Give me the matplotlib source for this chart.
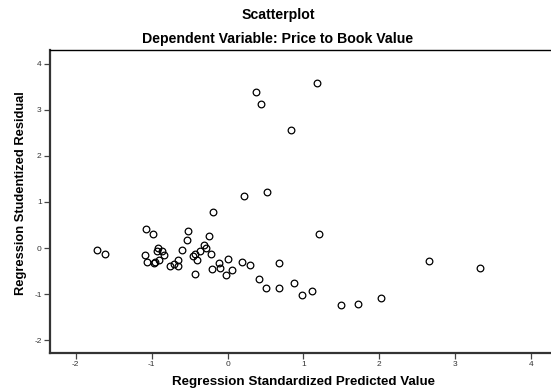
import matplotlib
matplotlib.use("Agg")
import matplotlib.pyplot as plt

# Data
pred = [-1.715, -1.62, -1.08, -0.98, -1.09, -1.06, -0.97, -0.95, -0.90, -0.915,
        -0.925, -0.86, -0.84, -0.76, -0.705, -0.65, -0.65, -0.595, -0.54, -0.525,
        -0.46, -0.43, -0.405, -0.43, -0.36, -0.31, -0.29, -0.24, -0.22, -0.19,
        -0.21, -0.11, -0.10, 0.0, -0.015, 0.065, 0.195, 0.30, 0.22, 0.525,
        0.37, 0.445, 0.83, 1.175, 1.205, 0.42, 0.51, 0.68, 0.68, 0.87,
        0.98, 1.11, 1.49, 1.72, 2.02, 2.655, 3.33]
resid = [-0.04, -0.12, 0.41, 0.31, -0.15, -0.31, -0.33, -0.30, -0.25, -0.01,
         -0.07, -0.07, -0.145, -0.38, -0.35, -0.27, -0.39, -0.05, 0.17, 0.38,
         -0.17, -0.12, -0.27, -0.56, -0.06, 0.06, -0.01, 0.27, -0.14, 0.78,
         -0.45, -0.33, -0.43, -0.24, -0.59, -0.47, -0.31, -0.36, 1.13, 1.22,
         3.39, 3.13, 2.57, 3.59, 0.30, -0.67, -0.87, -0.86, -0.33, -0.77,
         -1.01, -0.94, -1.24, -1.21, -1.09, -0.29, -0.44]
xticks = [-2, -1, 0, 1, 2, 3, 4]
yticks = [-2, -1, 0, 1, 2, 3, 4]

title = "Scatterplot"
subtitle = "Dependent Variable: Price to Book Value"
xlabel = "Regression Standardized Predicted Value"
ylabel = "Regression Studentized Residual"

plt.rcParams['font.family'] = ['Liberation Sans', 'DejaVu Sans']
plt.rcParams['axes.unicode_minus'] = False

fig = plt.figure(figsize=(5.51, 3.92), dpi=100)
ax = fig.add_axes([50/551, 39/392, 1 - 50/551, (353-50)/392])

ax.plot(pred, resid, linestyle='none', marker='o', markersize=4.8,
        markerfacecolor='none', markeredgecolor='black', markeredgewidth=0.9)

ax.set_xlim(-2.34, 4.263)
ax.set_ylim(-2.28, 4.30)
ax.set_xticks(xticks)
ax.set_yticks(yticks)
ax.tick_params(direction='out', length=4, width=0.9, color='#444444',
               labelsize=6, labelcolor='#333333', pad=2)

for s in ['left', 'bottom']:
    ax.spines[s].set_linewidth(1.6)
    ax.spines[s].set_color('#333333')
ax.spines['top'].set_linewidth(1.0)
ax.spines['top'].set_color('black')
ax.spines['right'].set_visible(False)

fig.text(278/551, 1 - 15/392, title, ha='center', va='center',
         fontsize=10.2, fontweight='bold')
fig.text(278/551, 1 - 39/392, subtitle, ha='center', va='center',
         fontsize=10.2, fontweight='bold')
fig.text(303/551, 1 - 382/392, xlabel, ha='center', va='center',
         fontsize=9.6, fontweight='bold')
fig.text(21/551, 1 - 193/392, ylabel, ha='center', va='center',
         rotation=90, fontsize=9.3, fontweight='bold')

fig.savefig("out.png", dpi=100)
